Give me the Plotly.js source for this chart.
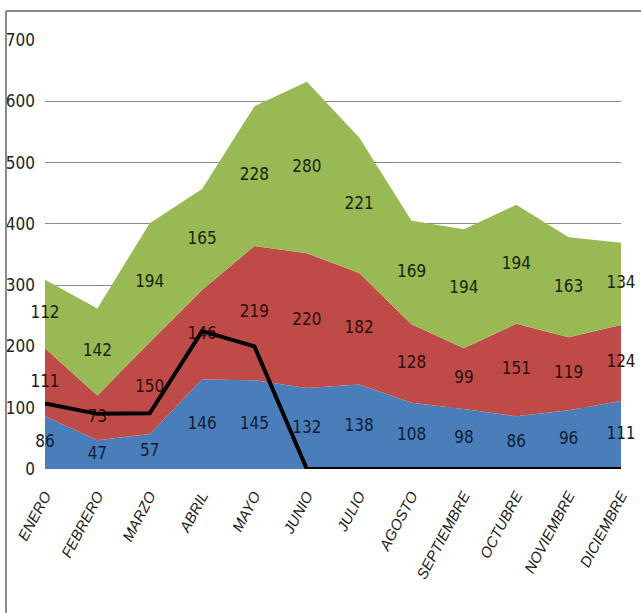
<!DOCTYPE html>
<html>
<head>
<meta charset="utf-8">
<script src="https://cdn.plot.ly/plotly-3.0.1.min.js"></script>
<style>
  html, body { margin: 0; padding: 0; background: #fff; }
  #chart { width: 641px; height: 613px; }
</style>
</head>
<body>
<div id="chart"></div>
<script>
// Monthly values for the three stacked bands and the overlay line
const meses = ['ENERO','FEBRERO','MARZO','ABRIL','MAYO','JUNIO','JULIO','AGOSTO','SEPTIEMBRE','OCTUBRE','NOVIEMBRE','DICIEMBRE'];
const serieAzul  = [86, 47, 57, 146, 145, 132, 138, 108, 98, 86, 96, 111];
const serieRoja  = [111, 73, 150, 146, 219, 220, 182, 128, 99, 151, 119, 124];
const serieVerde = [112, 142, 194, 165, 228, 280, 221, 169, 194, 194, 163, 134];
const lineaNegra = [107, 90, 91, 225, 200, 0, 0, 0, 0, 0, 0, 0];

const colores = { azul: '#4a7ebb', roja: '#be4b48', verde: '#98b954' };
const colorTexto = { azul: '#101c33', roja: '#2e0c0c', verde: '#18240a' };
const fuenteNum = '"Liberation Sans Narrow", "DejaVu Sans Condensed", "Liberation Sans", sans-serif';

const xs = meses.map((_, i) => i);

function banda(vals, color) {
  return {
    x: xs, y: vals, type: 'scatter', mode: 'none',
    stackgroup: 'uno', fill: 'tonexty', fillcolor: color,
    hoverinfo: 'skip', showlegend: false
  };
}

// Data labels sit in the middle of each band
function etiquetas(vals, base, color) {
  return {
    x: xs,
    y: vals.map((v, i) => base[i] + v / 2),
    text: vals.map(String),
    type: 'scatter', mode: 'text', textposition: 'middle center',
    textfont: { family: fuenteNum, size: 17, color: color },
    cliponaxis: false, hoverinfo: 'skip', showlegend: false
  };
}

const cero = meses.map(() => 0);
const baseRoja = serieAzul.slice();
const baseVerde = serieAzul.map((v, i) => v + serieRoja[i]);

const data = [
  banda(serieAzul, colores.azul),
  banda(serieRoja, colores.roja),
  banda(serieVerde, colores.verde),
  etiquetas(serieAzul, cero, colorTexto.azul),
  etiquetas(serieRoja, baseRoja, colorTexto.roja),
  etiquetas(serieVerde, baseVerde, colorTexto.verde),
  {
    x: xs, y: lineaNegra, type: 'scatter', mode: 'lines',
    line: { color: '#000', width: 4 }, cliponaxis: false,
    hoverinfo: 'skip', showlegend: false
  }
];

const layout = {
  width: 641, height: 613,
  margin: { l: 45, r: 20, t: 40, b: 144 },
  paper_bgcolor: '#fff', plot_bgcolor: '#fff',
  showlegend: false,
  xaxis: {
    type: 'linear', range: [0, 11],
    tickvals: xs, ticktext: meses.map(m => '<i>' + m + '</i>'), tickangle: -62,
    tickfont: { family: '"Liberation Sans", Arial, sans-serif', size: 15, color: '#1a1a1a' },
    ticklabelstandoff: 14,
    showgrid: false, zeroline: false, showline: false, ticks: '', fixedrange: true
  },
  yaxis: {
    range: [0, 700], dtick: 100, tick0: 0,
    tickfont: { family: fuenteNum, size: 17, color: '#222' },
    showgrid: true, gridcolor: '#8c8c8c', gridwidth: 1,
    zeroline: false, showline: false, ticks: '', ticklabelstandoff: 9, fixedrange: true
  },
  shapes: [
    { type: 'line', xref: 'paper', yref: 'paper', x0: -0.0677, x1: 1.05, y0: 1.0676, y1: 1.0676,
      line: { color: '#8a8a8a', width: 2 } },
    { type: 'line', xref: 'paper', yref: 'paper', x0: -0.0677, x1: -0.0677, y0: 1.0676, y1: -0.4,
      line: { color: '#8a8a8a', width: 2 } }
  ]
};

Plotly.newPlot('chart', data, layout, { displayModeBar: false, staticPlot: true });
</script>
</body>
</html>
